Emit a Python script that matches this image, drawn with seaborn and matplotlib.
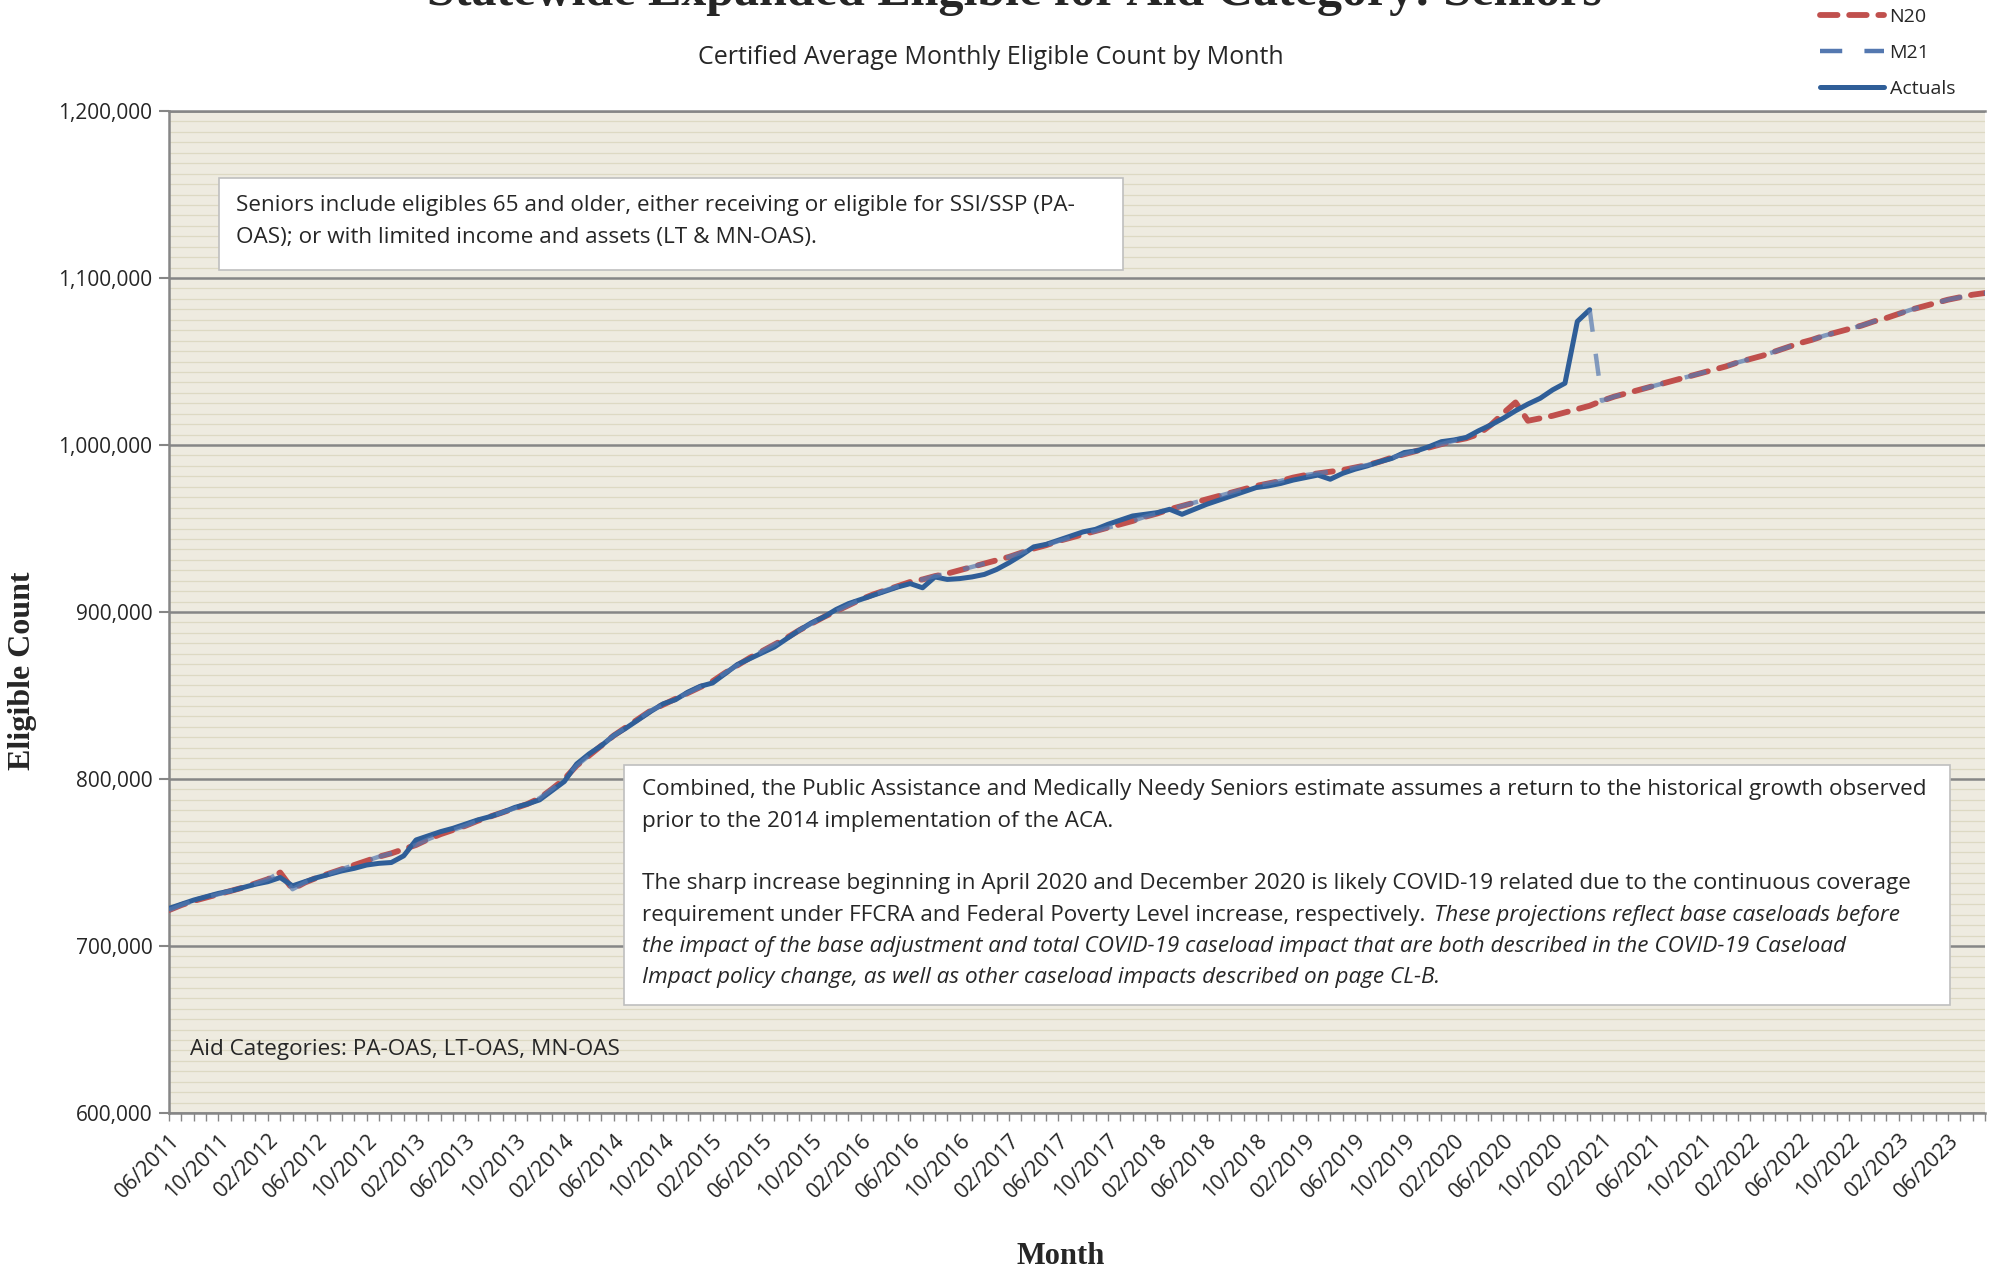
import matplotlib
matplotlib.use("Agg")
import matplotlib.pyplot as plt
import seaborn as sns
import pandas as pd
import numpy as np
from matplotlib.lines import Line2D
from matplotlib.patches import Rectangle
from matplotlib.ticker import FuncFormatter, MultipleLocator

# --- Data ---

# months 06/2011 .. 09/2023, one point per month
months = pd.period_range("2011-06", "2023-09", freq="M")
month_labels = [p.strftime("%m/%Y") for p in months]

# Actuals 06/2011 .. 01/2021
actuals = [
    722500, 725000, 727500, 729500, 731500, 733000, 735000, 737000, 738500, 741000,
    736000, 738500, 741000, 743000, 745000, 746500, 748500, 749500, 750000, 754000,
    763500, 766000, 768500, 770500, 773000, 775500, 777500, 780000, 783000, 785000,
    787500, 793000, 798500, 809000, 815000, 820000, 826000, 830500, 835500, 840500,
    845000, 847500, 852000, 855500, 857500, 863000, 868500, 872000, 875500, 879000,
    884000, 889000, 893500, 897000, 901500, 905000, 907500, 910000, 912500, 915000,
    917000, 914500, 921000, 919500, 920000, 921000, 922500, 925500, 929500, 934000,
    939000, 940500, 943000, 945500, 948000, 949500, 952500, 955000, 957500, 958500,
    959500, 961500, 958500, 961500, 964500, 967000, 969500, 972000, 974500, 975500,
    977000, 979000, 980500, 982000, 979500, 983000, 985500, 987500, 990000, 992000,
    995500, 996500, 999000, 1002000, 1003000, 1004500, 1008500, 1012000, 1016000, 1020500,
    1024500, 1028000, 1033000, 1037000, 1074000, 1081000,
]

# N20 estimate 06/2011 .. 09/2023
n20 = [
    721500, 724500, 727000, 729000, 731000, 733000, 735000, 737500, 740000, 744000,
    734000, 738000, 741000, 743500, 746000, 748500, 751000, 753500, 755500, 758000,
    760500, 764000, 767000, 769500, 772000, 775000, 777500, 780000, 782500, 785000,
    788500, 794000, 800000, 808000, 814000, 820000, 826000, 831000, 836000, 841000,
    844500, 848000, 851500, 855000, 858500, 863500, 868000, 872500, 876500, 880500,
    884500, 889000, 893000, 897000, 900500, 904000, 907500, 910500, 913000, 915500,
    918000, 919500, 921500, 923000, 925000, 927000, 929000, 931000, 933000, 935500,
    938000, 940000, 942500, 944500, 946500, 948500, 950500, 952500, 954500, 957000,
    959000, 961500, 963500, 965500, 967500, 969500, 971500, 973500, 975500, 977000,
    978500, 980500, 982000, 983000, 984000, 985000, 986500, 988000, 990000, 992500,
    994500, 996500, 998500, 1000500, 1002500, 1004000, 1006500, 1012000, 1019000, 1025500,
    1014500, 1016000, 1017500, 1019500, 1021500, 1023500, 1026500, 1029000, 1031000, 1033000,
    1035000, 1037000, 1039000, 1041000, 1043000, 1045000, 1047000, 1049500, 1051500, 1053500,
    1056000, 1058500, 1061000, 1063000, 1065500, 1067500, 1069500, 1071500, 1074000, 1076000,
    1078500, 1081000, 1083000, 1085000, 1087000, 1088500, 1090000, 1091000,
]

# M21 lies on top of N20 in history (through 03/2020) and again from 03/2021 on;
# its forecast starts from the 01/2021 actual and drops back in 02/2021
m21_hist_end = 106
m21_start = 115
m21_jump = [1081000, 1026500]

subtitle = "Certified Average Monthly Eligible Count by Month"
title = "Statewide Expanded Eligible for Aid Category: Seniors"
box1_lines = [
    "Seniors include eligibles 65 and older, either receiving or eligible for SSI/SSP (PA-",
    "OAS); or with limited income and assets (LT & MN-OAS).",
]
box2_lines = [
    "Combined, the Public Assistance and Medically Needy Seniors estimate assumes a return to the historical growth observed",
    "prior to the 2014 implementation of the ACA.",
    "",
    "The sharp increase beginning in April 2020 and December 2020 is likely COVID-19 related due to the continuous coverage",
]
box2_mixed = ("requirement under FFCRA and Federal Poverty Level increase, respectively. ",
              "These projections reflect base caseloads before")
box2_italic = [
    "the impact of the base adjustment and total COVID-19 caseload impact that are both described in the COVID-19 Caseload",
    "Impact policy change, as well as other caseload impacts described on page CL-B.",
]
aid_text = "Aid Categories: PA-OAS, LT-OAS, MN-OAS"

# --- Frames ---
idx = np.arange(len(months))
df_act = pd.DataFrame({"i": idx[:len(actuals)], "v": actuals})
df_n20 = pd.DataFrame({"i": idx, "v": n20})
df_m21a = pd.DataFrame({"i": idx[:m21_hist_end], "v": n20[:m21_hist_end]})
df_m21b = pd.DataFrame({"i": idx[m21_start:],
                        "v": m21_jump + n20[m21_start + 2:]})

# --- Style ---
sns.set_theme(style="white")
plt.rcParams["font.family"] = ["Open Sans", "DejaVu Sans"]

W, H = 1997, 1270
fig = plt.figure(figsize=(W / 100, H / 100), dpi=100)
L, R, T, B = 169, 1985, 111, 1113
ax = fig.add_axes([L / W, 1 - B / H, (R - L) / W, (B - T) / H])
ax.set_facecolor("#EEEBE0")

def fx(x):
    return x / W

def fy(y):
    return 1 - y / H

RED = "#C0504D"
BLUE = "#2F5E98"
M21C = "#5478B0"
TXT = 16.2

sns.lineplot(data=df_n20, x="i", y="v", ax=ax, color=RED, lw=4.2, zorder=3)
ax.lines[-1].set_linestyle((0, (3.0, 2.0)))
ax.lines[-1].set_dash_capstyle("round")
sns.lineplot(data=df_act, x="i", y="v", ax=ax, color=BLUE, lw=3.6, zorder=4)
for d in (df_m21a, df_m21b):
    sns.lineplot(data=d, x="i", y="v", ax=ax, color=M21C, lw=3.2, zorder=5, alpha=0.7)
    ax.lines[-1].set_linestyle((0, (5.0, 5.0)))

ax.set_xlim(0, len(months) - 1)
ax.set_ylim(600000, 1200000)
ax.yaxis.set_major_locator(MultipleLocator(100000))
ax.yaxis.set_minor_locator(MultipleLocator(6250))
ax.yaxis.set_major_formatter(FuncFormatter(lambda v, p: f"{int(v):,}"))
ax.grid(which="major", axis="y", color="#868686", lw=1.8, zorder=1)
ax.grid(which="minor", axis="y", color="#DDD9C3", lw=0.9, zorder=0.5)
ax.grid(False, axis="x")
ax.set_axisbelow(True)

ax.set_xticks(idx[::4])
ax.set_xticklabels(month_labels[::4], rotation=45, ha="right",
                   rotation_mode="anchor", fontsize=15.5)
ax.xaxis.set_minor_locator(MultipleLocator(1))
ax.tick_params(axis="x", which="both", direction="out", length=6, width=1,
               color="#868686", bottom=True, pad=6)
ax.tick_params(axis="y", which="major", direction="out", length=7, width=1.5,
               color="#868686", left=True, labelsize=15, pad=5)
ax.tick_params(axis="y", which="minor", length=0)

for s in ("left", "bottom", "top"):
    ax.spines[s].set_color("#868686")
    ax.spines[s].set_linewidth(1.8)
ax.spines["right"].set_visible(False)

ax.set_xlabel("")
ax.set_ylabel("")

# titles and axis labels
fig.text(fx(1014), fy(-7), title, ha="center", va="center",
         family="Liberation Serif", weight="bold", fontsize=36)
fig.text(fx(991), fy(58), subtitle, ha="center", va="center", fontsize=18)
fig.text(fx(23), fy(671), "Eligible Count", rotation=90, ha="center", va="center",
         family="Liberation Serif", weight="bold", fontsize=23)
fig.text(fx(1061), fy(1257), "Month", ha="center", va="center",
         family="Liberation Serif", weight="bold", fontsize=22)

# legend at the top right
handles = [
    Line2D([], [], color=RED, lw=4.2, linestyle=(0, (3.0, 2.0)), dash_capstyle="round"),
    Line2D([], [], color=M21C, lw=3.2, linestyle=(0, (5.0, 5.0))),
    Line2D([], [], color=BLUE, lw=3.6),
]
fig.legend(handles, ["N20", "M21", "Actuals"], loc="upper left",
           bbox_to_anchor=(fx(1802), fy(-10)), frameon=False, fontsize=14,
           handlelength=3.3, labelspacing=0.94, handletextpad=0.3)

# text boxes
fig.patches.append(Rectangle((fx(219), fy(270)), fx(1123 - 219), (270 - 178) / H,
                             transform=fig.transFigure, facecolor="white",
                             edgecolor="#BFBFBF", lw=1.2, zorder=6))
for k, line in enumerate(box1_lines):
    fig.text(fx(236), fy(206 + 31 * k), line, ha="left", va="center",
             fontsize=TXT, zorder=7)

fig.patches.append(Rectangle((fx(624), fy(1005)), fx(1950 - 624), (1005 - 765) / H,
                             transform=fig.transFigure, facecolor="white",
                             edgecolor="#BFBFBF", lw=1.2, zorder=6))
y0, dy = 790, 31.3
for k, line in enumerate(box2_lines):
    fig.text(fx(642), fy(y0 + dy * k), line, ha="left", va="center",
             fontsize=TXT, zorder=7)
t = fig.text(fx(642), fy(y0 + dy * 4), box2_mixed[0], ha="left", va="center",
             fontsize=TXT, zorder=7)
fig.canvas.draw()
x1 = t.get_window_extent().x1
fig.text(fx(x1 + 3), fy(y0 + dy * 4), box2_mixed[1], ha="left", va="center",
         fontsize=TXT, style="italic", zorder=7)
for k, line in enumerate(box2_italic):
    fig.text(fx(642), fy(y0 + dy * (5 + k)), line, ha="left", va="center",
             fontsize=TXT, style="italic", zorder=7)

fig.text(fx(190), fy(1049), aid_text, ha="left", va="center", fontsize=TXT)

fig.savefig("out.png", dpi=100)
